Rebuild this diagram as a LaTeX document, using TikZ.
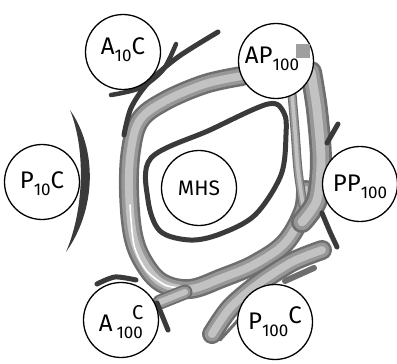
\documentclass[tikz,border=0pt]{standalone}
\usepackage{fontspec}
\setmainfont{Fira Sans}
\definecolor{ink}{HTML}{3A3A3A}
\definecolor{bandedge}{HTML}{6E6E6E}
\definecolor{bandtwo}{HTML}{979797}
\definecolor{bandmid}{HTML}{C2C2C2}
\newcommand\lowsub[1]{\raisebox{-0.3em}{\fontsize{17}{17}\selectfont #1}}
\newcommand\gband[2]{%
  \draw[line width=#1pt, bandedge, line cap=round, line join=round] #2;
  \draw[line width=0.75*#1pt, bandtwo, line cap=round, line join=round] #2;
  \draw[line width=0.4*#1pt, bandmid, line cap=round, line join=round] #2;}
\tikzset{
  ring/.style={circle, draw=black, line width=1.3pt, minimum size=75pt, inner sep=0pt, fill=white},
  lbl/.style={font=\fontsize{24}{24}\selectfont, inner sep=0pt},
  inkline/.style={draw=ink, line width=#1, line cap=round, line join=round},
  inkline/.default=5pt
}
\begin{document}
\begin{tikzpicture}[x=1pt,y=-1pt]
\useasboundingbox (0,0) rectangle (397,364);

% inner thick loop around MHS
\draw[ink, line width=5pt] plot[smooth cycle, tension=0.55] coordinates {
  (151,158) (210,130) (268,104) (284,113) (286,135) (281,175) (255,215) (220,234) (190,240) (160,231) (148,200)};

% main outer loop band (top, left, bottom)
\gband{20}{plot[smooth, tension=0.6] coordinates {(242,76) (205,84) (165,101) (140,120) (131,150) (129,190) (133,235) (144,263) (162,283) (190,289) (222,278) (255,264) (285,243) (303,212) (306,190)}}
% white split line in the left band
\draw[white, line width=1.6pt, line cap=round] plot[smooth] coordinates {(130,205) (134,245) (146,270) (165,285) (182,288)};
% link to A100C
\gband{15}{(160,302) -- (185,292)}
% right inner thin band
\gband{9}{plot[smooth] coordinates {(292,94) (295,130) (298,170) (303,205)}}
% right outer band
\gband{22}{plot[smooth] coordinates {(311,72) (317,110) (321,160) (317,200) (302,222)}}
% bottom-right diagonal band
\gband{20}{plot[smooth] coordinates {(322,250) (292,262) (258,284) (230,308) (212,334)}}
\draw[inkline=6pt, draw=bandedge] (314,268) -- (285,281);
\draw[inkline=3pt, draw=bandedge] (220,340) -- (240,318);

% dark strokes
\draw[inkline=5pt] plot[smooth] coordinates {(218,32) (178,57) (148,83) (131,108) (124,135)};
\draw[inkline=4.5pt] plot[smooth] coordinates {(111,95) (140,88) (163,70) (176,44)};
\fill[ink] (70,110) .. controls (98,150) and (96,210) .. (66,252)
           .. controls (84,210) and (86,150) .. (70,110) -- cycle;
\draw[inkline=5pt] (338,124) -- (327,143);
\draw[inkline=5pt] (322,213) -- (330,232) -- (337,247);
\draw[inkline=5pt] plot[smooth] coordinates {(97,284) (115,277) (136,280)};
\draw[inkline=5pt] (157,303) -- (168,330);

% circles
\node[ring] (a10c)  at (123,52)  {};
\node[ring] (ap100) at (276,61)  {};
\node[ring] (p10c)  at (42,182)  {};
\node[ring] (mhs)   at (199,188) {};
\node[ring] (pp100) at (360,184) {};
\node[ring] (a100c) at (121,320) {};
\node[ring] (p100c) at (275,322) {};

\fill[gray!75] (296,44) rectangle (310,58);

% labels
\node[lbl] at ([xshift=0pt,yshift=2pt]a10c)  {A\lowsub{10}C};
\node[lbl] at ([xshift=-4pt,yshift=2pt]ap100) {AP\lowsub{100}};
\node[lbl] at ([xshift=0pt,yshift=-2pt]p10c) {P\lowsub{10}C};
\node[lbl, font=\fontsize{21}{21}\selectfont] at (mhs) {MHS};
\node[lbl] at ([xshift=0pt,yshift=-3pt]pp100) {PP\lowsub{100}};
\node[lbl] at ([xshift=0pt,yshift=-2pt]a100c) {A\,\lowsub{100}\hspace{-0.45em}\raisebox{0.5em}{\fontsize{20}{20}\selectfont C}};
\node[lbl] at ([xshift=0pt,yshift=0pt]p100c) {P\lowsub{100}\raisebox{0.25em}{C}};
\end{tikzpicture}
\end{document}
